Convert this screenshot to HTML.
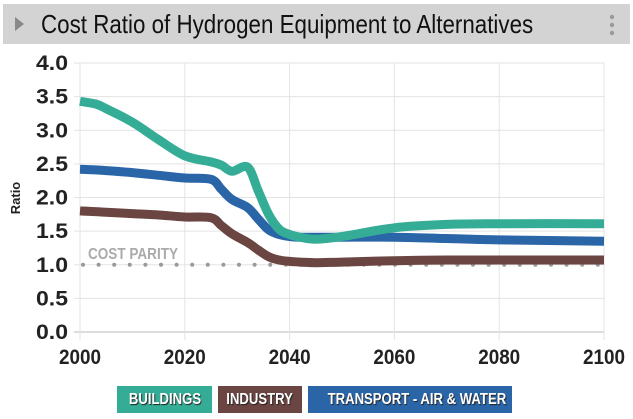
<!DOCTYPE html>
<html><head><meta charset="utf-8"><style>
body{margin:0;width:633px;height:419px;background:#fff;overflow:hidden;font-family:"Liberation Sans",sans-serif;}
#hdr{position:absolute;left:3px;top:4px;width:627px;height:40px;background:#d3d3d3;}
#title{position:absolute;left:38px;top:5px;font-size:26px;color:#111;white-space:nowrap;transform:scaleX(0.86);transform-origin:0 0;}
.leg{position:absolute;top:386px;height:27px;line-height:27px;color:#fff;font-weight:bold;font-size:16px;text-align:center;text-shadow:1px 1px 1px #222;cursor:pointer;white-space:nowrap;overflow:hidden;}
.leg span{display:inline-block;transform:scaleX(0.82);}
</style></head><body>
<div id="hdr">
<svg width="20" height="40" style="position:absolute;left:10px;top:0"><polygon points="2,13 11,20 2,27" fill="#888"/></svg>
<div id="title">Cost Ratio of Hydrogen Equipment to Alternatives</div>
<svg width="10" height="40" style="position:absolute;left:605px;top:0"><circle cx="4" cy="13" r="2.2" fill="#999"/><circle cx="4" cy="21" r="2.2" fill="#999"/><circle cx="4" cy="29" r="2.2" fill="#999"/></svg>
</div>
<svg id="chart" width="633" height="419" style="position:absolute;left:0;top:0"></svg>
<div class="leg" style="left:117px;width:95px;background:#35ad96"><span>BUILDINGS</span></div>
<div class="leg" style="left:218px;width:84px;background:#6b4541"><span>INDUSTRY</span></div>
<div class="leg" style="left:308px;width:204px;background:#2a65a8"><span>TRANSPORT - AIR &amp; WATER</span></div>
<script>
const years = [2000,2003,2005,2010,2015,2020,2025,2027,2029,2032,2034,2036,2038,2040,2042,2045,2050,2060,2070,2080,2100];
const buildings = [3.43,3.39,3.32,3.12,2.86,2.62,2.53,2.48,2.39,2.45,2.1,1.75,1.53,1.45,1.41,1.38,1.42,1.55,1.60,1.61,1.61];
const transport = [2.42,2.41,2.40,2.37,2.33,2.29,2.27,2.12,1.97,1.85,1.68,1.52,1.45,1.42,1.41,1.41,1.41,1.41,1.39,1.37,1.35];
const industry = [1.80,1.79,1.78,1.76,1.74,1.71,1.70,1.58,1.46,1.33,1.22,1.12,1.07,1.05,1.04,1.03,1.04,1.06,1.07,1.07,1.07];
const xTicks = [2000,2020,2040,2060,2080,2100];
const yTicks = [0,0.5,1,1.5,2,2.5,3,3.5,4];
const parity = 1.0;
const NS="http://www.w3.org/2000/svg", svg=document.getElementById('chart');
const X=v=>80+(v-2000)*5.24, Y=v=>332-v*67.25;
function mk(t,a){const e=document.createElementNS(NS,t);for(const k in a)e.setAttribute(k,a[k]);svg.appendChild(e);return e;}
yTicks.forEach(v=>{
 const l=mk('line',{x1:74,x2:604,y1:Y(v),y2:Y(v),stroke:v===0?'#bbb':'#e3e3e3','stroke-width':1});
 
 
 const t=mk('text',{x:68,y:Y(v)+7,'text-anchor':'end','font-size':21,'font-weight':'bold',fill:'#222',textLength:32,lengthAdjust:'spacingAndGlyphs'});
 t.textContent=v.toFixed(1);
 
 
});
xTicks.forEach(v=>{
 const l=mk('line',{x1:X(v),x2:X(v),y1:63,y2:340,stroke:'#e3e3e3','stroke-width':1});
 
 
 const t=mk('text',{x:X(v),y:364,'text-anchor':'middle','font-size':21,'font-weight':'bold',fill:'#222',textLength:42,lengthAdjust:'spacingAndGlyphs'});
 t.textContent=v;
 
 
});
const yt=mk('text',{x:20,y:198,'text-anchor':'middle','font-size':13,'font-weight':'bold',fill:'#222',transform:'rotate(-90 20 198)'});
yt.textContent='Ratio';


const pl=mk('line',{x1:X(2000)+3,x2:604,y1:Y(parity),y2:Y(parity),stroke:'#999','stroke-width':4,'stroke-linecap':'round','stroke-dasharray':'0 15.6'});


const pt=mk('text',{x:88,y:Y(parity)-6,'font-size':16,'font-weight':'bold',fill:'#aaa',textLength:90,lengthAdjust:'spacingAndGlyphs'});
pt.textContent='COST PARITY';


function line(vals,color,name){
 const P=vals.map((v,i)=>[X(years[i]),Y(v)]);
 let d='M'+P[0][0].toFixed(1)+','+P[0][1].toFixed(1);
 for(let i=0;i<P.length-1;i++){
  const p0=P[Math.max(i-1,0)],p1=P[i],p2=P[i+1],p3=P[Math.min(i+2,P.length-1)];
  const c1=[p1[0]+(p2[0]-p0[0])/6,p1[1]+(p2[1]-p0[1])/6],c2=[p2[0]-(p3[0]-p1[0])/6,p2[1]-(p3[1]-p1[1])/6];
  d+=' C'+c1.map(n=>n.toFixed(1)).join(',')+' '+c2.map(n=>n.toFixed(1)).join(',')+' '+p2[0].toFixed(1)+','+p2[1].toFixed(1);
 }
 const p=mk('path',{d:d,fill:'none',stroke:color,'stroke-width':9,'stroke-linejoin':'round'});
 
 
}
line(industry,'#6b4541','industry-line');
line(transport,'#2a65a8','transport-line');
line(buildings,'#35ad96','buildings-line');
</script>
</body></html>
